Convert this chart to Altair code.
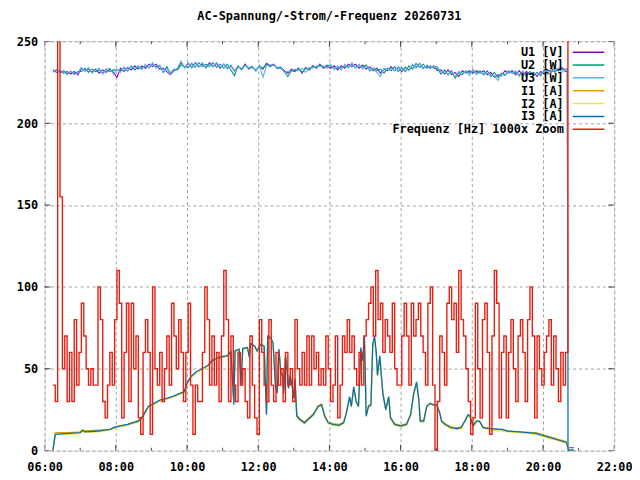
import altair as alt
import pandas as pd
import numpy as np

FONT = "DejaVu Sans Mono"
TITLE = "AC-Spannung/-Strom/-Frequenz 20260731"
SERIES = ["U1 [V]", "U2 [W]", "U3 [W]", "I1 [A]", "I2 [A]", "I3 [A]", "Frequenz [Hz] 1000x Zoom"]
COLORS = ["#9400d3", "#009e73", "#56b4e9", "#e69f00", "#f0e442", "#0072b2", "#e51e10"]
X_TICK_HOURS = [6, 8, 10, 12, 14, 16, 18, 20, 22]
X_MINOR_HOURS = [7, 9, 11, 13, 15, 17, 19, 21]
Y_TICKS = [0, 50, 100, 150, 200, 250]

# ---- voltages: sampled every 6 minutes from 06:14 to 20:38, then tail after shutdown
VOLT_START = "06:14"
VOLT_STEP_MIN = 6
u1 = [232.5, 231, 232, 230.5, 231.5, 230, 231.5, 229.5,
      233.5, 232, 233, 231, 233, 230.5, 232.5, 231, 233, 231,
      228, 233.5, 231.5, 234, 232.5, 235, 233, 235, 233.5, 236,
      234.5, 236, 233, 233.5, 231.5, 229.5, 232, 233, 237, 234,
      236.5, 234, 237, 234.5, 236, 234, 237, 234.5, 236.5, 233.5,
      236, 233.5, 235, 232, 234.5, 233, 236, 233, 234.5, 232,
      235, 233, 236.5, 235, 236, 233.5, 234, 232, 230.5, 233,
      232, 233.5, 230.5, 234, 232.5, 235, 233.5, 236, 233.5, 235,
      233.5, 235, 232.5, 235, 233.5, 236, 234.5, 236, 233.5, 235.5,
      233, 234.5, 232, 233.5, 230.5, 233, 232, 234.5, 232, 234,
      231.5, 234, 232.5, 235.5, 234, 236.5, 233.5, 235, 233.5, 235,
      232, 232.5, 230, 232.5, 229.5, 231, 228.5, 232, 230.5, 232,
      230.5, 232, 230.5, 232, 229.5, 231, 228, 229.5, 229, 232,
      230.5, 232, 229.5, 232, 229, 231.5, 230, 231, 228.5, 231.5,
      230, 232.5, 231, 233.5, 232, 234, 231.5]
u2 = [231.5, 232.5, 231, 232, 230, 231.5, 230, 231.5,
      231.5, 233.5, 231, 233, 231.5, 232.5, 230.5, 233, 231.5, 232.5,
      232.5, 232, 233.5, 232, 234.5, 232.5, 234.5, 233.5, 235, 234,
      236, 234.5, 235, 231, 234.5, 230.5, 233, 232.5, 235.5, 234.5,
      234, 236.5, 234, 237, 234.5, 236, 234.5, 237, 234, 236,
      233.5, 236, 232.5, 229, 235, 232.5, 235.5, 233.5, 234, 232.5,
      234.5, 233.5, 236, 234.5, 235.5, 234, 233.5, 231.5, 228.5, 232,
      231.5, 233.5, 231, 233.5, 233, 234.5, 234, 235.5, 234, 235.5,
      235, 233.5, 234, 233.5, 235, 234.5, 236, 234, 235, 234,
      235.5, 232, 233.5, 232, 233, 230.5, 233.5, 232, 234.5, 231.5,
      234, 231.5, 235, 233, 236.5, 234, 236, 233.5, 235, 233.5,
      233.5, 230, 232.5, 229.5, 232, 227.5, 231, 229.5, 232, 230.5,
      232, 230.5, 232, 229.5, 232, 228.5, 231, 228, 230.5, 229.5,
      232, 230.5, 231, 229.5, 231.5, 229, 231.5, 229.5, 231, 229,
      232.5, 230, 233.5, 231, 233.5, 232.5, 233]
u3 = [231, 232.5, 230.5, 231.5, 229.5, 232, 229.5, 231,
      234, 231.5, 234, 230.5, 232.5, 233.5, 230, 232.5, 233.5, 230,
      233, 231, 234.5, 231.5, 235, 233.5, 235, 232.5, 236, 233.5,
      237, 233.5, 235.5, 231, 233.5, 230, 232.5, 233.5, 238, 233.5,
      237, 233.5, 236.5, 234, 237, 233.5, 236, 234.5, 237, 234,
      236, 233, 235.5, 231.5, 234, 233.5, 235, 234, 235, 231.5,
      235.5, 228, 235, 235.5, 235.5, 234, 234.5, 231, 231.5, 231.5,
      233, 232, 233.5, 231, 234, 233.5, 235, 234.5, 235, 233.5,
      236, 232.5, 235, 232.5, 236, 233.5, 237, 233.5, 236, 233,
      234.5, 233, 233, 231, 228.5, 233.5, 232.5, 233.5, 232, 234.5,
      232, 234.5, 232, 236, 233.5, 236.5, 233, 235.5, 234, 234.5,
      234.5, 231, 231.5, 230, 231, 228.5, 231.5, 230.5, 231.5, 229,
      233, 229.5, 231, 230.5, 230.5, 229.5, 229, 226, 230, 229,
      231.5, 230.5, 232, 228.5, 232, 228.5, 231, 230, 230.5, 230,
      231.5, 231, 232.5, 232, 233.5, 231, 232.5]
volt_tail_times = ["20:41", "20:42", "20:52"]
u1_tail = [231.5, 1.8, 1.8]
u2_tail = [233, 0.5, 0.5]
u3_tail = [232.5, 0.3, 0.3]

# ---- currents (irregular sample times)
cur_times = ["06:14", "06:18", "06:40", "07:00", "07:04", "07:08", "07:30", "07:50", "08:00", "08:20",
             "08:38", "08:46", "08:50", "08:55", "09:05", "09:15", "09:25", "09:35", "09:45", "09:55",
             "10:00", "10:06", "10:15", "10:25", "10:35", "10:42", "10:50", "11:00", "11:08", "11:14",
             "11:19", "11:21", "11:28", "11:31", "11:34", "11:42", "11:45", "11:47", "11:54", "11:58",
             "12:04", "12:10", "12:14", "12:16", "12:21", "12:25", "12:29", "12:32", "12:35", "12:38",
             "12:41", "12:43", "12:46", "12:49", "12:51", "12:54", "12:57", "13:00", "13:02", "13:05",
             "13:10", "13:18", "13:24", "13:33", "13:41", "13:47", "13:52", "13:58", "14:06", "14:16",
             "14:24", "14:28", "14:34", "14:37", "14:41", "14:45", "14:49", "14:53", "14:56", "14:59",
             "15:02", "15:06", "15:10", "15:13", "15:16", "15:19", "15:21", "15:25", "15:30", "15:35",
             "15:40", "15:43", "15:50", "16:00", "16:10", "16:17", "16:22", "16:27", "16:31", "16:33",
             "16:39", "16:44", "16:50", "16:55", "17:01", "17:06", "17:09", "17:15", "17:25", "17:35",
             "17:42", "17:48", "17:54", "17:57", "18:02", "18:08", "18:13", "18:19", "18:30", "18:52",
             "19:00", "19:20", "19:48", "20:40", "20:43", "20:52"]
i1 = [0, 11, 11, 11.5, 12.5, 12, 12.5, 13, 14.5, 16,
      18.5, 21.5, 24, 27, 28.5, 30.5, 31.5, 32.5, 34, 35.5,
      40.5, 44.5, 47.5, 49.5, 51.5, 54.5, 56, 57, 57.5, 60,
      30, 60.5, 61.5, 43, 62, 62.5, 58, 65, 63.5, 61,
      64.5, 63.5, 25, 69, 68.5, 65.5, 42, 37, 61, 49,
      46, 37, 57, 48, 40, 45, 41, 33, 43, 22,
      19.5, 17.5, 19.5, 22.5, 27.5, 28.5, 21.5, 17.5, 16.5, 16,
      17.5, 22.5, 32, 27.5, 38, 30.5, 27.5, 61, 55, 68,
      23, 27.5, 28.5, 63, 68, 59, 47, 57, 36, 25.5,
      32, 20.5, 16.5, 15.5, 16.5, 22.5, 34, 41, 30.5, 18.5,
      18.5, 27, 29, 28, 27.5, 23, 18.5, 16.5, 14.5, 14,
      14.5, 18, 21.5, 21, 15.5, 18, 18, 14.5, 13.5, 12.5,
      12, 11.5, 11, 5.5, 0, 0]
i2 = [0, 10.5, 10, 10.5, 12, 11, 11.5, 12.5, 14, 15.5,
      17.5, 20.5, 23.5, 26.5, 28.5, 30.5, 31.5, 32.5, 34, 35.5,
      40.5, 44.5, 47.5, 49.5, 51.5, 54.5, 56, 57, 57.5, 60,
      29, 60.5, 61.5, 41, 62, 62.5, 57.5, 65, 63.5, 60.5,
      64.5, 63.5, 23, 69.5, 68.5, 65.5, 41, 36, 61.5, 48.5,
      45.5, 36, 57.5, 47.5, 39, 45.5, 40.5, 32.5, 43.5, 21,
      18.5, 16.5, 18.5, 21.5, 26.5, 27.5, 20.5, 16.5, 15.5, 15,
      16.5, 21.5, 32.5, 26.5, 38.5, 29.5, 26.5, 62, 54.5, 69,
      21.5, 26.5, 27.5, 64, 69, 59.5, 45.5, 57.5, 34.5, 24.5,
      32.5, 19.5, 15.5, 14.5, 15.5, 21.5, 34.5, 41.5, 29.5, 17.5,
      17.5, 26.5, 28.5, 27.5, 27.5, 22.5, 17.5, 15.5, 13.5, 13,
      13.5, 17.5, 21.5, 20.5, 14.5, 17.5, 17.5, 13.5, 12.5, 12,
      11.5, 11, 10, 4.5, 0, 0]
i3 = [0, 10, 10.5, 11, 12.5, 11.5, 12, 13, 14.5, 16,
      18, 21, 24, 27, 29, 31, 32, 33, 34.5, 36,
      41, 45, 48, 50, 52, 55, 56.5, 57.5, 58, 60.5,
      28, 61, 62, 40, 62.5, 63, 57, 65.5, 64, 61,
      65, 64, 22, 70, 69, 66, 40, 35, 62, 48,
      46, 35, 58, 48, 38, 46, 40, 32, 44, 21,
      19, 17, 19, 22, 27, 28, 21, 17, 16, 15.5,
      17, 22, 33, 27, 39, 30, 27, 63, 55, 70,
      21, 27, 28, 65, 70, 60, 46, 58, 35, 25,
      33, 20, 16, 15, 16, 22, 35, 42, 30, 18,
      18, 27, 29, 28, 28, 23, 18, 16, 14, 13.5,
      14, 18, 22, 21, 15, 18, 18, 14, 13.5, 13,
      12, 11.5, 10.5, 5, 0, 0]

# ---- frequency (1000x zoom), sampled every 4 minutes from 06:14 to 20:42
FREQ_START = "06:14"
FREQ_STEP_MIN = 4
freq = [40, 30, 300, 155, 50, 70, 30, 60, 30, 80, 40, 60,
        90, 70, 50, 40, 50, 40, 40, 100, 80, 30, 20, 40, 60, 40, 80,
        110, 90, 20, 60, 90, 30, 90, 50, 70, 20, 10, 60, 80, 60, 10,
        100, 50, 40, 60, 30, 50, 70, 40, 90, 70, 50, 80, 60, 30, 60,
        90, 40, 10, 40, 30, 30, 60, 100, 80, 40, 70, 40, 60, 30, 70,
        110, 80, 30, 70, 40, 30, 60, 40, 50, 30, 20, 70, 40, 20, 10,
        80, 60, 40, 30, 80, 40, 30, 60, 40, 50, 30, 60, 40, 50, 30,
        80, 50, 40, 60, 40, 70, 40, 70, 50, 60, 40, 50, 40, 70, 50,
        30, 40, 70, 20, 40, 70, 60, 80, 60, 70, 50, 40, 60, 40, 70,
        80, 90, 100, 70, 110, 80, 90, 60, 80, 70, 60, 90, 50, 40, 40,
        70, 90, 70, 40, 90, 70, 80, 90, 70, 60, 40, 90, 100, 40, 0,
        30, 70, 60, 40, 90, 100, 80, 90, 60, 110, 80, 70, 50, 30, 10,
        20, 90, 50, 20, 80, 90, 60, 10, 70, 110, 90, 20, 60, 70, 20,
        60, 80, 50, 30, 70, 80, 60, 30, 80, 100, 70, 20, 70, 50, 40,
        60, 70, 80, 40, 70, 50, 30, 60, 40, 60, 300]


def hhmm(s):
    h, m = s.split(":")
    return int(h) + int(m) / 60.0


def regular_hours(start, step_min, n):
    return hhmm(start) + np.arange(n) * step_min / 60.0


n_volt = min(len(u1), len(u2), len(u3))
vh = list(regular_hours(VOLT_START, VOLT_STEP_MIN, n_volt)) + [hhmm(t) for t in volt_tail_times]
volt_rows = []
for name, vals, tail in [(SERIES[0], u1, u1_tail), (SERIES[1], u2, u2_tail), (SERIES[2], u3, u3_tail)]:
    for h, v in zip(vh, list(vals[:n_volt]) + tail):
        volt_rows.append({"h": h, "v": v, "s": name})
volt_df = pd.DataFrame(volt_rows)

ch = [hhmm(t) for t in cur_times]
cur_rows = []
for name, vals in [(SERIES[3], i1), (SERIES[4], i2), (SERIES[5], i3)]:
    for h, v in zip(ch, vals):
        cur_rows.append({"h": h, "v": v, "s": name})
cur_df = pd.DataFrame(cur_rows)

fh = regular_hours(FREQ_START, FREQ_STEP_MIN, len(freq))
freq_df = pd.DataFrame({"h": fh, "v": freq, "s": SERIES[6]})

xscale = alt.Scale(domain=[6, 22], nice=False, zero=False)
yscale = alt.Scale(domain=[0, 250], nice=False)
cscale = alt.Scale(domain=SERIES, range=COLORS)

x_axis = alt.Axis(values=X_TICK_HOURS, labelExpr="(datum.value < 10 ? '0' : '') + datum.value + ':00'",
                  grid=True, gridDash=[3, 3], gridColor="#a0a0a0", gridWidth=1,
                  domain=False, ticks=False, labelPadding=11, title=None,
                  labelFont=FONT, labelFontSize=12, labelFontWeight="bold", labelColor="black",
                  labelFlush=False, labelOverlap=False, labelBound=False)
y_axis = alt.Axis(values=Y_TICKS, grid=True, gridDash=[3, 3], gridColor="#a0a0a0", gridWidth=1,
                  domain=False, ticks=False, labelPadding=7, title=None,
                  labelFont=FONT, labelFontSize=12, labelFontWeight="bold", labelColor="black",
                  labelFlush=False, labelOverlap=False)

legend = alt.Legend(orient="none", legendX=544, legendY=5, title=None, symbolType="M-4,0L4,0",
                    symbolSize=64, symbolStrokeWidth=1.5, labelAlign="right",
                    labelOffset={"expr": "-31"},
                    labelFont=FONT, labelFontSize=12, labelFontWeight="bold", labelColor="black",
                    rowPadding=1, padding=0, labelLimit=400)

X = alt.X("h:Q", scale=xscale, axis=x_axis)
Y = alt.Y("v:Q", scale=yscale, axis=y_axis)
C = alt.Color("s:N", scale=cscale, legend=legend, sort=SERIES)

volt_layer = alt.Chart(volt_df).mark_line(interpolate="linear", clip=True, strokeWidth=1.1).encode(
    x=X, y=Y, color=C)
cur_layer = alt.Chart(cur_df).mark_line(interpolate="linear", clip=True, strokeWidth=1.3).encode(
    x=X, y=Y, color=C)
freq_layer = alt.Chart(freq_df).mark_line(interpolate="step-after", clip=True, strokeWidth=1.4).encode(
    x=X, y=Y, color=C)

major_x = pd.DataFrame([{"h": h, "v": y} for h in X_TICK_HOURS for y in (0, 250)])
minor_x = pd.DataFrame([{"h": h, "v": y} for h in X_MINOR_HOURS for y in (0, 250)])
major_y = pd.DataFrame([{"h": h, "v": y} for y in Y_TICKS for h in (6, 22)])

tick_mx = alt.Chart(major_x).mark_tick(orient="vertical", size=12, thickness=1, color="black", clip=True).encode(
    x=X, y=Y)
tick_nx = alt.Chart(minor_x).mark_tick(orient="vertical", size=6, thickness=1, color="black", clip=True).encode(
    x=X, y=Y)
tick_my = alt.Chart(major_y).mark_tick(orient="horizontal", size=12, thickness=1, color="black", clip=True).encode(
    x=X, y=Y)

chart = alt.layer(volt_layer, cur_layer, freq_layer, tick_mx, tick_nx, tick_my).properties(
    width=576, height=414,
    title=alt.TitleParams(text=TITLE, font=FONT, fontSize=12, fontWeight="bold", color="black",
                          anchor="middle", offset=13),
    autosize=alt.AutoSizeParams(type="none"),
    padding={"left": 37, "top": 31, "right": 18, "bottom": 24},
).configure_view(stroke="black", strokeWidth=1).configure(background="white")

chart.save("out.html", embed_options={"renderer": "svg", "actions": False})
